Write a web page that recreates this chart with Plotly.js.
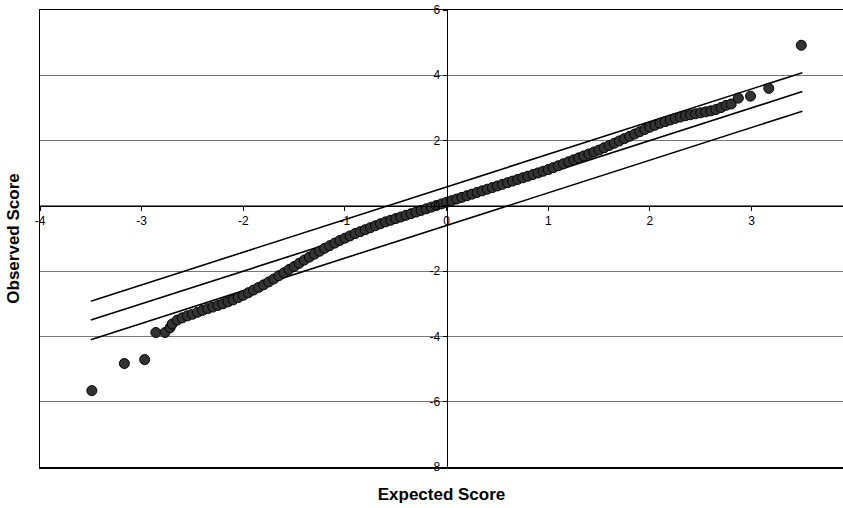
<!DOCTYPE html>
<html>
<head>
<meta charset="utf-8">
<script src="https://cdn.plot.ly/plotly-3.0.1.min.js"></script>
<style>html,body{margin:0;padding:0;background:#fff;}#chart{width:843px;height:508px;}</style>
</head>
<body>
<div id="chart"></div>
<script>
// Expected (normal) scores and observed scores
const expectedScore = [
  -3.49, -3.17, -2.97, -2.86, -2.77, -2.72,
  -2.70, -2.65, -2.60, -2.55, -2.50, -2.45, -2.40, -2.35, -2.30, -2.25,
  -2.20, -2.15, -2.10, -2.05, -2.00, -1.95, -1.90, -1.85, -1.80, -1.75,
  -1.70, -1.65, -1.60, -1.55, -1.50, -1.45, -1.40, -1.35, -1.30, -1.25,
  -1.20, -1.15, -1.10, -1.05, -1.00, -0.95, -0.90, -0.85, -0.80, -0.75,
  -0.70, -0.65, -0.60, -0.55, -0.50, -0.45, -0.40, -0.35, -0.30, -0.25,
  -0.20, -0.15, -0.10, -0.05, 0.00, 0.05, 0.10, 0.15, 0.20, 0.25,
  0.30, 0.35, 0.40, 0.45, 0.50, 0.55, 0.60, 0.65, 0.70, 0.75,
  0.80, 0.85, 0.90, 0.95, 1.00, 1.05, 1.10, 1.15, 1.20, 1.25,
  1.30, 1.35, 1.40, 1.45, 1.50, 1.55, 1.60, 1.65, 1.70, 1.75,
  1.80, 1.85, 1.90, 1.95, 2.00, 2.05, 2.10, 2.15, 2.20, 2.25,
  2.30, 2.35, 2.40, 2.45, 2.50, 2.55, 2.60, 2.65, 2.70, 2.75,
  2.80, 2.87, 2.99, 3.17, 3.49
];
const observedScore = [
  -5.66, -4.83, -4.71, -3.88, -3.88, -3.73,
  -3.62, -3.50, -3.43, -3.37, -3.32, -3.26, -3.20, -3.15, -3.10, -3.05,
  -3.00, -2.94, -2.88, -2.81, -2.74, -2.66, -2.58, -2.50, -2.42, -2.33,
  -2.24, -2.14, -2.05, -1.95, -1.86, -1.76, -1.66, -1.57, -1.48, -1.39,
  -1.30, -1.22, -1.14, -1.06, -0.99, -0.92, -0.85, -0.79, -0.73, -0.67,
  -0.61, -0.55, -0.49, -0.44, -0.39, -0.34, -0.29, -0.24, -0.19, -0.14,
  -0.09, -0.04, 0.01, 0.06, 0.11, 0.16, 0.21, 0.26, 0.31, 0.36,
  0.41, 0.46, 0.51, 0.56, 0.61, 0.66, 0.71, 0.76, 0.81, 0.86,
  0.91, 0.96, 1.01, 1.06, 1.11, 1.17, 1.23, 1.29, 1.35, 1.41,
  1.47, 1.53, 1.59, 1.65, 1.71, 1.78, 1.85, 1.92, 1.99, 2.06,
  2.13, 2.20, 2.27, 2.34, 2.41, 2.47, 2.53, 2.58, 2.63, 2.68,
  2.72, 2.76, 2.79, 2.82, 2.85, 2.88, 2.91, 2.95, 3.01, 3.08,
  3.12, 3.30, 3.36, 3.60, 4.92
];
// Reference lines (centre line and two limits), end points
const lineX = [-3.5, 3.5];
const upperLimit = [-2.92, 4.08];
const centreLine = [-3.5, 3.5];
const lowerLimit = [-4.1, 2.9];

const xRange = [-4, 3.9];
const yRange = [-8, 6];
const xTicks = [-4, -3, -2, -1, 0, 1, 2, 3];
const yTicks = [-8, -6, -4, -2, 0, 2, 4, 6];

const lineStyle = {color: '#000', width: 1.6};
const traces = [
  {x: lineX, y: upperLimit, mode: 'lines', line: lineStyle, showlegend: false, hoverinfo: 'skip'},
  {x: lineX, y: centreLine, mode: 'lines', line: lineStyle, showlegend: false, hoverinfo: 'skip'},
  {x: lineX, y: lowerLimit, mode: 'lines', line: lineStyle, showlegend: false, hoverinfo: 'skip'},
  {x: expectedScore, y: observedScore, mode: 'markers', showlegend: false,
   marker: {size: 10, color: '#333', line: {color: '#000', width: 1}}},
  {x: [], y: [], xaxis: 'x2', yaxis: 'y2', showlegend: false}
];

const font = {family: 'Liberation Sans, Arial, sans-serif', color: '#000'};
const layout = {
  width: 843, height: 508,
  margin: {l: 40, r: 0, t: 10, b: 41},
  paper_bgcolor: '#fff', plot_bgcolor: '#fff',
  font: font,
  showlegend: false,
  xaxis: {
    range: xRange, showgrid: false, zeroline: false,
    showline: true, linecolor: '#000', linewidth: 1.5, mirror: true,
    showticklabels: false, ticks: '',
    title: {text: 'Expected Score', font: {size: 17, family: font.family, weight: 'bold'}, standoff: 20}
  },
  yaxis: {
    range: yRange, showgrid: true, gridcolor: '#777', gridwidth: 1,
    tickvals: yTicks, zeroline: false,
    showline: true, linecolor: '#000', linewidth: 1.5,
    showticklabels: false, ticks: '',
    title: {text: 'Observed Score', font: {size: 17, family: font.family, weight: 'bold'}, standoff: 14}
  },
  xaxis2: {
    overlaying: 'x', anchor: 'free', position: (0 - yRange[0]) / (yRange[1] - yRange[0]),
    range: xRange, tickvals: xTicks, ticktext: xTicks.map(String),
    showgrid: false, zeroline: false, showline: true, linecolor: '#000', linewidth: 1.2,
    ticks: 'outside', ticklen: 4, tickcolor: '#000', tickfont: {size: 12}
  },
  yaxis2: {
    overlaying: 'y', anchor: 'free', side: 'left', position: (0 - xRange[0]) / (xRange[1] - xRange[0]),
    range: yRange, tickvals: yTicks, ticktext: yTicks.map(String),
    showgrid: false, zeroline: false, showline: true, linecolor: '#000', linewidth: 1.2,
    ticks: 'outside', ticklen: 4, tickcolor: '#000', tickfont: {size: 12}
  }
};
Plotly.newPlot('chart', traces, layout, {staticPlot: true, displayModeBar: false});
</script>
</body>
</html>
